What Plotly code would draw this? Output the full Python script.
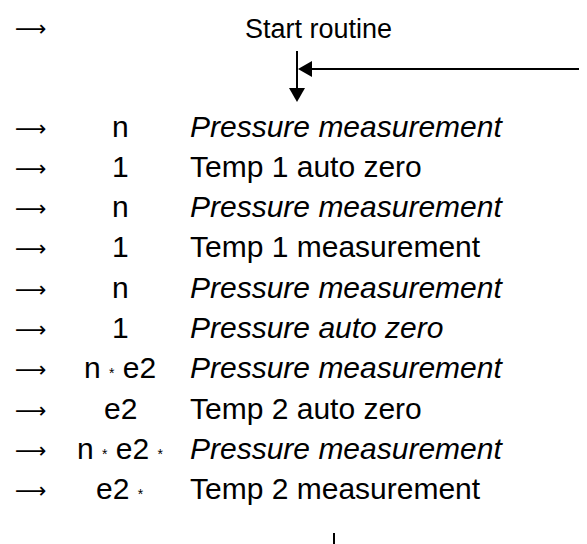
import plotly.graph_objects as go

W, H = 587, 544
OFF = 8  # default page body margin; axis ranges are shifted so data units = page pixels

title_text = "Start routine"
counts = ["n", "1", "n", "1", "n", "1", "n {s} e2", "e2", "n {s} e2 {s}", "e2 {s}"]
steps = ["Pressure measurement", "Temp 1 auto zero", "Pressure measurement",
         "Temp 1 measurement", "Pressure measurement", "Pressure auto zero",
         "Pressure measurement", "Temp 2 auto zero", "Pressure measurement",
         "Temp 2 measurement"]
italic = [True, False, True, False, True, True, True, False, True, False]

FONT = "Liberation Sans, Arial, sans-serif"
FS = 30
row0, dy = 127, 40.3
star = "<span style='font-size:14px'>*</span>"
ARROW = "⟶"
AFONT = "DejaVu Sans, sans-serif"

fig = go.Figure()
ann = []

def add(x, y, text, xanchor="center", fs=FS, fam=FONT):
    ann.append(dict(x=x, y=y, xref="x", yref="y", text=text, showarrow=False,
                    xanchor=xanchor, yanchor="middle",
                    font=dict(family=fam, size=fs, color="black")))

# header
add(31, 28, ARROW, fam=AFONT, fs=22)
add(318, 29, title_text, fs=27)

for i, (c, s, it) in enumerate(zip(counts, steps, italic)):
    y = row0 + dy * i
    add(31, y + 1, ARROW, fam=AFONT, fs=22)
    add(120, y - 1, c.replace("{s}", star))
    add(188, y - 1, f"<i>{s}</i>" if it else s, xanchor="left")

shapes = [
    # vertical line down into first row
    dict(type="line", x0=297, x1=297, y0=51, y1=90, line=dict(color="black", width=2)),
    dict(type="path", path="M 289 88 L 305 88 L 297 102 Z", fillcolor="black", line=dict(width=0)),
    # return line from right
    dict(type="line", x0=310, x1=587, y0=69, y1=69, line=dict(color="black", width=2)),
    dict(type="path", path="M 298 69 L 312 61 L 312 77 Z", fillcolor="black", line=dict(width=0)),
    # bottom tick
    dict(type="line", x0=334, x1=334, y0=533, y1=544, line=dict(color="black", width=2)),
]

fig.update_layout(
    width=W, height=H, margin=dict(l=0, r=0, t=0, b=0),
    paper_bgcolor="white", plot_bgcolor="white",
    xaxis=dict(range=[OFF, W + OFF], visible=False, fixedrange=True),
    yaxis=dict(range=[H + OFF, OFF], visible=False, fixedrange=True),
    annotations=ann, shapes=shapes, showlegend=False,
)
fig.write_html("out.html")
